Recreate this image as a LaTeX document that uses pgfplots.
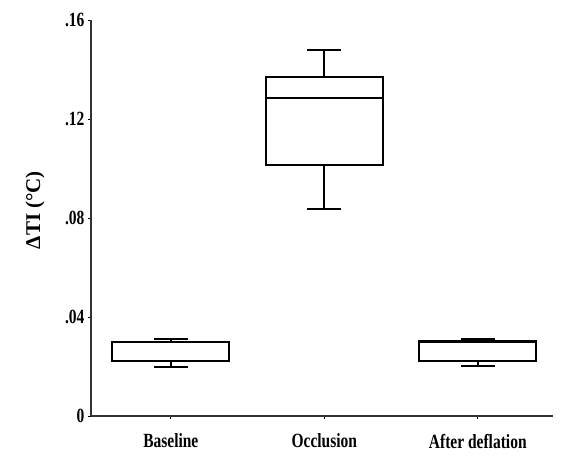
\documentclass[border=0pt]{standalone}
\usepackage{pgfplots}
\pgfplotsset{compat=1.18}
\usepgfplotslibrary{statistics}
\usepackage{fontspec}
\setmainfont{Liberation Serif}

\begin{document}
\begin{tikzpicture}
\begin{axis}[
width=462pt, height=396pt, scale only axis,
xmin=-0.52, xmax=2.49,
ymin=0, ymax=0.16,
axis x line*=bottom, axis y line*=left,
xtick={0,1,2},
xticklabels={Baseline,Occlusion,After deflation},
ytick={0,0.04,0.08,0.12,0.16},
yticklabels={0,.04,.08,.12,.16},
tick align=outside,
major tick length=3pt,
tick style={black, line width=0.8pt},
axis line style={black!80, line width=1.2pt},
every tick label/.append style={font=\bfseries\fontsize{15.5}{15.5}\selectfont, yscale=1.3},
xticklabel style={yshift=-8pt},
ylabel={ΔTI (°C)},
ylabel style={font=\bfseries\fontsize{21}{21}\selectfont, at={(axis description cs:-0.121,0.52)}, anchor=center},
boxplot/draw direction=y,
boxplot/box extend=0.76,
boxplot/whisker extend=0.22,
]
% Baseline
\addplot[black, line width=2pt, boxplot prepared={draw position=0,
  lower whisker=0.0199, lower quartile=0.0223, median=0.0298,
  upper quartile=0.0300, upper whisker=0.0310}] coordinates {};
% Occlusion
\addplot[black, line width=2pt, boxplot prepared={draw position=1,
  lower whisker=0.0835, lower quartile=0.1014, median=0.1286,
  upper quartile=0.1369, upper whisker=0.1479}] coordinates {};
% After deflation
\addplot[black, line width=2pt, boxplot prepared={draw position=2,
  lower whisker=0.0201, lower quartile=0.0223, median=0.0298,
  upper quartile=0.0302, upper whisker=0.0310}] coordinates {};
\end{axis}
\path ([shift={(-91pt,-43pt)}]current axis.south west) rectangle ([shift={(20pt,20pt)}]current axis.north east);
\end{tikzpicture}
\end{document}
